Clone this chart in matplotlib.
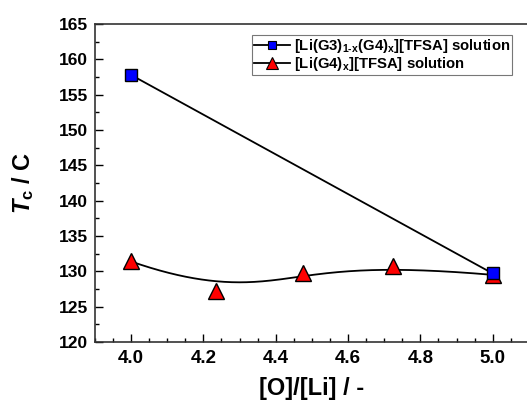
import numpy as np
import matplotlib
matplotlib.use("Agg")
import matplotlib.pyplot as plt
from matplotlib.ticker import MultipleLocator

plt.rcParams['font.family'] = ['Liberation Sans', 'DejaVu Sans']
plt.rcParams['font.weight'] = 'bold'
plt.rcParams['mathtext.fontset'] = 'custom'
plt.rcParams['mathtext.rm'] = 'Liberation Sans:bold'
plt.rcParams['mathtext.bf'] = 'Liberation Sans:bold'
plt.rcParams['mathtext.it'] = 'Liberation Sans:bold:italic'
plt.rcParams['mathtext.default'] = 'bf'

# Data
x_g3g4 = [4.0, 5.0]
tc_g3g4 = [157.8, 129.7]
x_g4 = [4.0, 4.235, 4.475, 4.725, 5.0]
tc_g4 = [131.4, 127.2, 129.7, 130.7, 129.5]


def bspline(px, py, n=300, k=3):
    """Clamped B-spline connection using the data points as control points."""
    m = len(px)
    inner = np.linspace(0, 1, m - k + 1)[1:-1]
    t = np.concatenate([np.zeros(k + 1), inner, np.ones(k + 1)])
    u = np.linspace(0, 1, n)
    u[-1] = 1 - 1e-12

    def basis(i, p, uu):
        if p == 0:
            return ((t[i] <= uu) & (uu < t[i + 1])).astype(float)
        a = np.zeros_like(uu)
        b = np.zeros_like(uu)
        if t[i + p] != t[i]:
            a = (uu - t[i]) / (t[i + p] - t[i]) * basis(i, p - 1, uu)
        if t[i + p + 1] != t[i + 1]:
            b = (t[i + p + 1] - uu) / (t[i + p + 1] - t[i + 1]) * basis(i + 1, p - 1, uu)
        return a + b

    B = np.array([basis(i, k, u) for i in range(m)])
    return B.T @ np.asarray(px), B.T @ np.asarray(py)


fig = plt.figure(figsize=(5.27, 4.05), dpi=100)
ax = fig.add_axes([0.180, 0.1556, 0.8235, 0.785])

bx, by = bspline(x_g4, tc_g4)
ax.plot(bx, by, color='black', lw=1.3, zorder=2)
ax.plot(x_g4, tc_g4, linestyle='none', marker='^', ms=11, mfc='red', mec='black', mew=1.0, zorder=3)
ax.plot(x_g3g4, tc_g3g4, color='black', lw=1.3, marker='s', ms=8, mfc='blue', mec='black', mew=1.0, zorder=4)

# legend handles
h1, = ax.plot([], [], color='black', lw=1.3, marker='s', ms=6, mfc='blue', mec='black', mew=0.8)
h2, = ax.plot([], [], color='black', lw=1.3, marker='^', ms=8, mfc='red', mec='black', mew=0.8)
leg = ax.legend([h1, h2],
                [r'[Li(G3)$_{1\text{-}x}$(G4)$_x$][TFSA] solution',
                 r'[Li(G4)$_x$][TFSA] solution'],
                loc='upper right', bbox_to_anchor=(0.962, 0.967),
                fontsize=10.7, frameon=True, fancybox=False, edgecolor='#555555',
                handlelength=2.4, borderpad=0.15, labelspacing=0.0, handletextpad=0.25,
                borderaxespad=0.0)
leg.get_frame().set_linewidth(0.8)

ax.set_xlim(3.9, 5.1)
ax.set_ylim(120, 165)
ax.xaxis.set_major_locator(MultipleLocator(0.2))
ax.xaxis.set_minor_locator(MultipleLocator(0.05))
ax.yaxis.set_major_locator(MultipleLocator(5))
ax.yaxis.set_minor_locator(MultipleLocator(2.5))
ax.tick_params(which='both', direction='in', top=False, right=False, width=1.0)
ax.tick_params(which='major', length=6)
ax.tick_params(which='minor', length=3)
ax.tick_params(axis='x', labelsize=13.5, pad=6)
ax.tick_params(axis='y', labelsize=12.5, pad=5)
for lbl in ax.get_xticklabels() + ax.get_yticklabels():
    lbl.set_fontweight('bold')
for s in ax.spines.values():
    s.set_linewidth(1.2)
    s.set_color('#333333')

ax.set_xlabel('[O]/[Li] / -', fontsize=17, fontweight='bold', labelpad=7)
ax.set_ylabel(r'$\mathit{T}_{c}$ / C', fontsize=17, fontweight='bold', labelpad=16)

fig.savefig('out.png', dpi=100)
